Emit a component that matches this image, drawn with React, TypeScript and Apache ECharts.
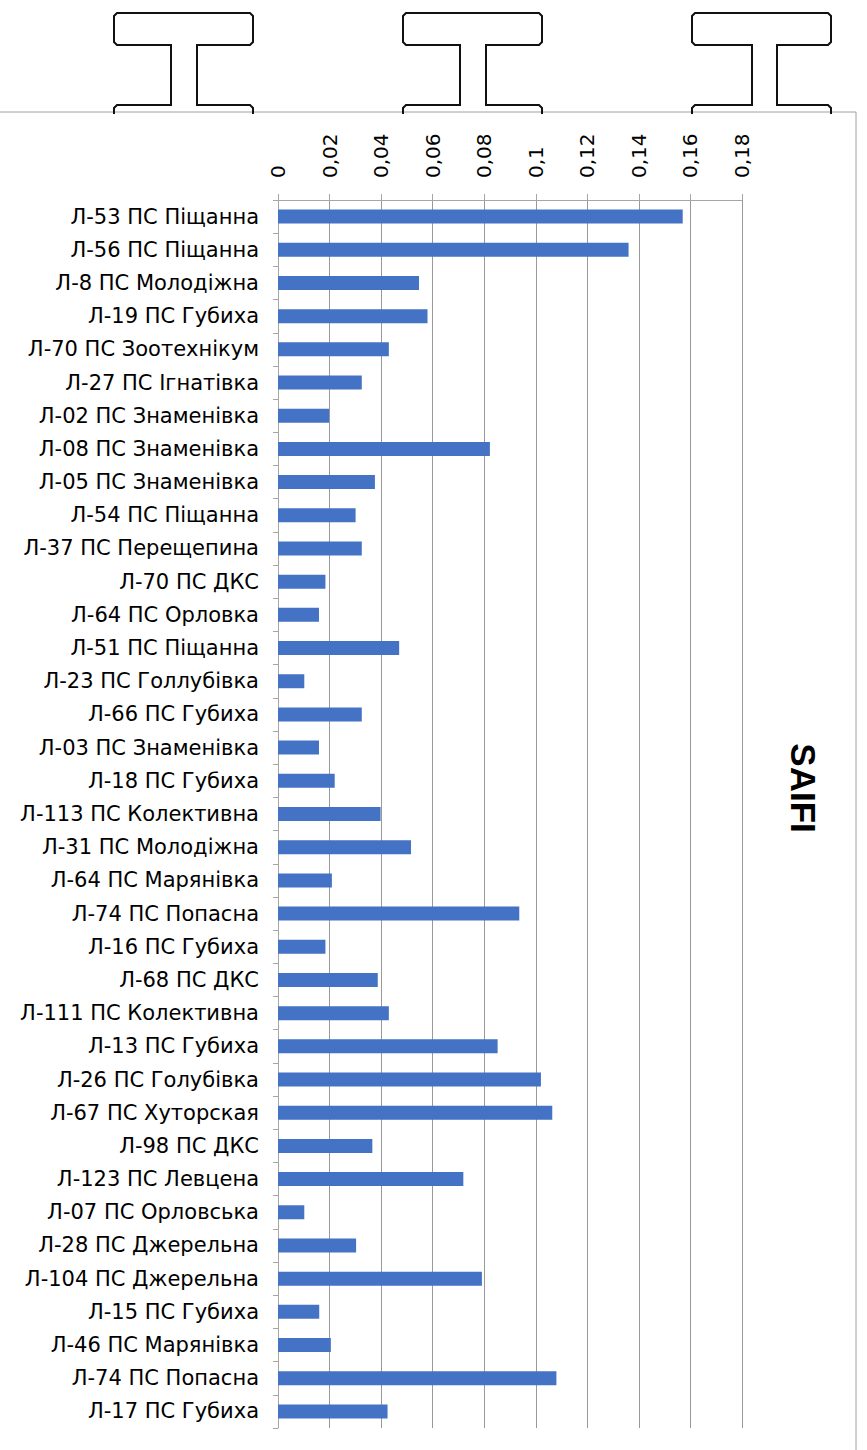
import React, { useEffect, useRef } from "react";
import * as echarts from "echarts";

const categories: string[] = [
  "Л-53 ПС Піщанна",
  "Л-56 ПС Піщанна",
  "Л-8 ПС Молодіжна",
  "Л-19 ПС Губиха",
  "Л-70 ПС Зоотехнікум",
  "Л-27 ПС Ігнатівка",
  "Л-02 ПС Знаменівка",
  "Л-08 ПС Знаменівка",
  "Л-05 ПС Знаменівка",
  "Л-54 ПС Піщанна",
  "Л-37 ПС Перещепина",
  "Л-70 ПС ДКС",
  "Л-64 ПС Орловка",
  "Л-51 ПС Піщанна",
  "Л-23 ПС Голлубівка",
  "Л-66 ПС Губиха",
  "Л-03 ПС Знаменівка",
  "Л-18 ПС Губиха",
  "Л-113 ПС Колективна",
  "Л-31 ПС Молодіжна",
  "Л-64 ПС Марянівка",
  "Л-74 ПС Попасна",
  "Л-16 ПС Губиха",
  "Л-68 ПС ДКС",
  "Л-111 ПС Колективна",
  "Л-13 ПС Губиха",
  "Л-26 ПС Голубівка",
  "Л-67 ПС Хуторская",
  "Л-98 ПС ДКС",
  "Л-123 ПС Левцена",
  "Л-07 ПС Орловська",
  "Л-28 ПС Джерельна",
  "Л-104 ПС Джерельна",
  "Л-15 ПС Губиха",
  "Л-46 ПС Марянівка",
  "Л-74 ПС Попасна",
  "Л-17 ПС Губиха",
];

const saifiValues: number[] = [
  0.157, 0.136, 0.0547, 0.058, 0.043, 0.0325, 0.0198, 0.0822, 0.0376, 0.0301,
  0.0325, 0.0184, 0.0159, 0.047, 0.0102, 0.0325, 0.0159, 0.022, 0.0398, 0.0516,
  0.0209, 0.0936, 0.0184, 0.0387, 0.043, 0.0852, 0.102, 0.1064, 0.0366, 0.0719,
  0.0102, 0.0303, 0.0791, 0.016, 0.0205, 0.108, 0.0425,
];

const axisMin = 0;
const axisMax = 0.18;
const axisStep = 0.02;
const chartTitle = "SAIFI";

function beam(x0: number, x1: number, w0: number, w1: number) {
  return {
    type: "polyline",
    shape: {
      points: [
        [x0, 114],
        [x0, 108],
        [x0 + 3, 105],
        [w0, 105],
        [w0, 45],
        [x0 + 3, 45],
        [x0, 42],
        [x0, 16],
        [x0 + 3, 13],
        [x1 - 3, 13],
        [x1, 16],
        [x1, 42],
        [x1 - 3, 45],
        [w1, 45],
        [w1, 105],
        [x1 - 3, 105],
        [x1, 108],
        [x1, 114],
      ],
    },
    style: { stroke: "#111", lineWidth: 2, fill: "none" },
    z: 1,
  };
}

export default function App() {
  const ref = useRef<HTMLDivElement>(null);
  useEffect(() => {
    document.body.style.margin = "0";
    const chart = echarts.init(ref.current!, null, { renderer: "svg" });
    const fmt = (v: number) =>
      v === 0 ? "0" : String(+v.toFixed(2)).replace(".", ",");
    chart.setOption({
      animation: false,
      backgroundColor: "#ffffff",
      grid: { left: 278, top: 200, width: 464, height: 1228, containLabel: false },
      xAxis: {
        type: "value",
        position: "top",
        min: axisMin,
        max: axisMax,
        interval: axisStep,
        axisLine: { show: true, lineStyle: { color: "#a6a6a6", width: 1 } },
        axisTick: { show: true, length: 6, lineStyle: { color: "#a6a6a6" } },
        axisLabel: {
          rotate: -90,
          margin: 22,
          color: "#000",
          fontFamily: "DejaVu Sans",
          fontSize: 20,
          formatter: fmt,
        },
        splitLine: { show: true, lineStyle: { color: "#999999", width: 1 } },
      },
      yAxis: {
        type: "category",
        inverse: true,
        data: categories,
        axisLine: { show: true, lineStyle: { color: "#a6a6a6", width: 1 } },
        axisTick: { show: true, length: 5, lineStyle: { color: "#a6a6a6" } },
        axisLabel: {
          margin: 19,
          color: "#000",
          fontFamily: "DejaVu Sans",
          fontSize: 21,
        },
      },
      series: [
        {
          type: "bar",
          data: saifiValues,
          barWidth: 14,
          itemStyle: { color: "#4472C4" },
          z: 3,
        },
      ],
      graphic: [
        {
          type: "rect",
          shape: { x: -2, y: 112, width: 858, height: 1350 },
          style: { stroke: "#a0a0a0", lineWidth: 1, fill: "none" },
          z: 0,
        },
        beam(114, 253, 171, 197),
        beam(403, 542, 460, 486),
        beam(692, 831, 752, 777),
        {
          type: "text",
          x: 803,
          y: 788,
          rotation: -Math.PI / 2,
          style: {
            text: chartTitle,
            fontFamily: "Liberation Sans",
            fontWeight: "bold",
            fontSize: 35,
            fill: "#000",
            align: "center",
            verticalAlign: "middle",
          },
          z: 5,
        },
      ],
    });
    return () => chart.dispose();
  }, []);
  return (
    <div
      ref={ref}
      style={{ position: "absolute", left: 0, top: 0, width: 867, height: 1450 }}
    />
  );
}
